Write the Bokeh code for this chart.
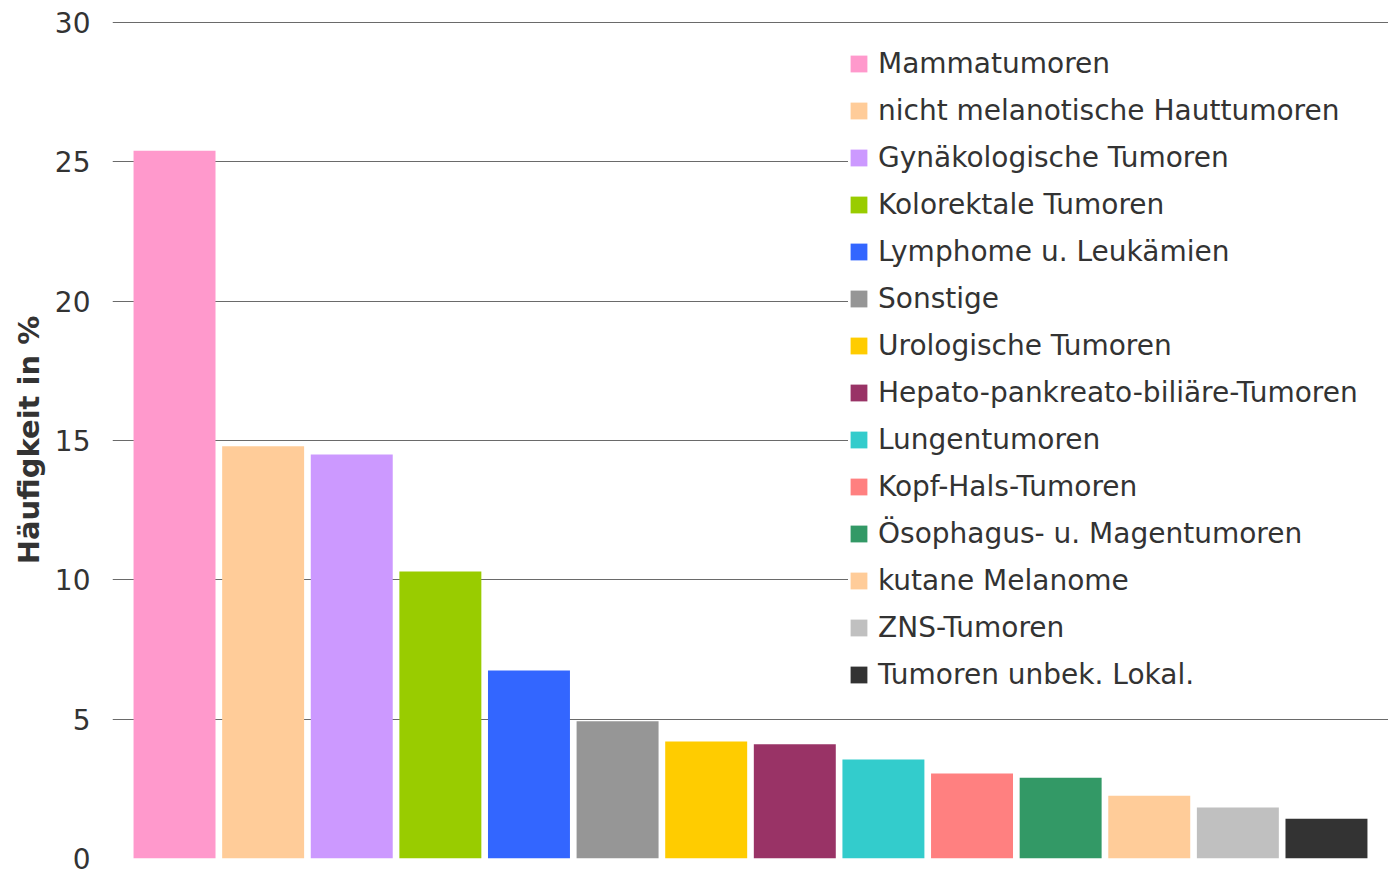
from bokeh.plotting import figure
from bokeh.models import ColumnDataSource, Range1d, FixedTicker
from bokeh.embed import file_html
from bokeh.resources import INLINE

categories = [
    "Mammatumoren",
    "nicht melanotische Hauttumoren",
    "Gynäkologische Tumoren",
    "Kolorektale Tumoren",
    "Lymphome u. Leukämien",
    "Sonstige",
    "Urologische Tumoren",
    "Hepato-pankreato-biliäre-Tumoren",
    "Lungentumoren",
    "Kopf-Hals-Tumoren",
    "Ösophagus- u. Magentumoren",
    "kutane Melanome",
    "ZNS-Tumoren",
    "Tumoren unbek. Lokal.",
]
values = [25.4, 14.8, 14.5, 10.3, 6.75, 4.93, 4.2, 4.1, 3.55, 3.05, 2.9, 2.25, 1.83, 1.43]
colors = [
    "#FF99CC", "#FFCC99", "#CC99FF", "#99CC00", "#3366FF", "#969696", "#FFCC00",
    "#993366", "#33CCCC", "#FF8080", "#339966", "#FFCC99", "#C0C0C0", "#333333",
]
y_ticks = [0, 5, 10, 15, 20, 25, 30]

positions = list(range(1, len(categories) + 1))
source = ColumnDataSource(dict(x=positions, top=values, cat=categories, color=colors))

p = figure(
    width=1388, height=871,
    x_range=Range1d(0.3, len(categories) + 0.7),
    y_range=Range1d(0, 30.04),
    output_backend="svg", toolbar_location=None,
    min_border_left=112, min_border_top=21, min_border_bottom=13, min_border_right=0,
)
p.outline_line_color = None

p.vbar(x="x", top="top", width=0.925, bottom=0, color="color", line_color=None,
       source=source, legend_field="cat")

p.xaxis.visible = False
p.xgrid.grid_line_color = None
p.ygrid.grid_line_color = "#6a6a6a"
p.ygrid.grid_line_width = 1
p.ygrid.ticker = FixedTicker(ticks=y_ticks)

ax = p.yaxis[0]
ax.ticker = FixedTicker(ticks=y_ticks)
ax.axis_line_color = None
ax.major_tick_line_color = None
ax.minor_tick_line_color = None
ax.major_label_standoff = 16
ax.major_label_text_font = "DejaVu Sans"
ax.major_label_text_font_size = "28px"
ax.major_label_text_color = "#333333"
ax.axis_label = "Häufigkeit in %"
ax.axis_label_text_font = "DejaVu Sans"
ax.axis_label_text_font_size = "29px"
ax.axis_label_text_font_style = "bold"
ax.axis_label_text_color = "#333333"
ax.axis_label_standoff = 6

lg = p.legend[0]
lg.location = (736, 167)
lg.margin = 0
lg.padding = 14
lg.spacing = 14
lg.glyph_width = 21
lg.glyph_height = 21
lg.label_height = 30
lg.label_width = 520
lg.label_standoff = 9
lg.label_text_font = "DejaVu Sans"
lg.label_text_font_size = "28px"
lg.label_text_color = "#333333"
lg.border_line_color = None
lg.background_fill_color = "white"
lg.background_fill_alpha = 1.0

open("out.html", "w").write(file_html(p, INLINE))
